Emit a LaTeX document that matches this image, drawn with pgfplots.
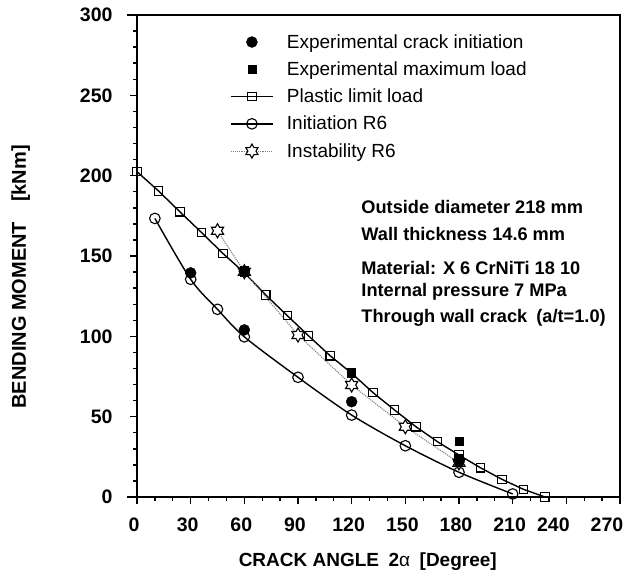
\documentclass[border=0pt]{standalone}
\usepackage{fontspec}
\setmainfont{Liberation Sans}
\usepackage{pgfplots}
\pgfplotsset{compat=1.18}

\pgfdeclareplotmark{sixstar}{%
  \pgfpathmoveto{\pgfpointpolar{90}{\pgfplotmarksize}}%
  \pgfpathlineto{\pgfpointpolar{120}{0.577\pgfplotmarksize}}%
  \pgfpathlineto{\pgfpointpolar{150}{\pgfplotmarksize}}%
  \pgfpathlineto{\pgfpointpolar{180}{0.577\pgfplotmarksize}}%
  \pgfpathlineto{\pgfpointpolar{210}{\pgfplotmarksize}}%
  \pgfpathlineto{\pgfpointpolar{240}{0.577\pgfplotmarksize}}%
  \pgfpathlineto{\pgfpointpolar{270}{\pgfplotmarksize}}%
  \pgfpathlineto{\pgfpointpolar{300}{0.577\pgfplotmarksize}}%
  \pgfpathlineto{\pgfpointpolar{330}{\pgfplotmarksize}}%
  \pgfpathlineto{\pgfpointpolar{0}{0.577\pgfplotmarksize}}%
  \pgfpathlineto{\pgfpointpolar{30}{\pgfplotmarksize}}%
  \pgfpathlineto{\pgfpointpolar{60}{0.577\pgfplotmarksize}}%
  \pgfpathclose
  \pgfusepathqfillstroke
}

\begin{document}
\begin{tikzpicture}
\useasboundingbox (-137pt,-76pt) rectangle (494pt,497pt);
\begin{axis}[
  at={(0,0)}, anchor=south west,
  scale only axis, width=483pt, height=482pt,
  xmin=0, xmax=270, ymin=0, ymax=300,
  axis line style={line width=1.6pt},
  xtick={0,30,...,210}, ytick={0,50,...,300},
  minor xtick={10,20,...,260}, minor y tick num=4,
  extra x ticks={240,270},
  extra x tick style={xticklabel style={xshift=-10pt}},
  xtick pos=bottom, ytick pos=left,
  tick align=outside,
  major tick length=7pt, minor tick length=4pt,
  tick style={line width=1.4pt, black},
  tick label style={font=\bfseries\fontsize{19.5}{19.5}\selectfont},
  yticklabel style={xshift=-14pt},
  xticklabel style={yshift=-10pt, xshift=-3pt},
  /pgf/number format/assume math mode=true,
  clip=false,
  legend style={draw=none, fill=none, at={(axis cs:52,289.3)}, anchor=north west,
    font=\fontsize{19}{19}\selectfont, row sep=8pt, inner sep=0pt},
  legend cell align=left,
  legend image code/.code={\path[draw=none, fill=none] (0pt,0pt) -- (54pt,0pt);\draw[mark repeat=2, mark phase=2] plot coordinates {(0pt,0pt) (21pt,0pt) (42pt,0pt)};},
]
% legend images
\addlegendimage{only marks, mark=*, mark size=5.5pt, black}
\addlegendentry{Experimental crack initiation}
\addlegendimage{only marks, mark=square*, mark size=4pt, black}
\addlegendentry{Experimental maximum load}
\addlegendimage{black, line width=1.4pt, mark=square, mark size=4.2pt, mark options={fill=white, line width=1.1pt}}
\addlegendentry{Plastic limit load}
\addlegendimage{black, line width=1.4pt, mark=o, mark size=5.3pt, mark options={fill=white, line width=1.1pt}}
\addlegendentry{Initiation R6}
\addlegendimage{gray, densely dotted, line width=1.1pt, mark=sixstar, mark size=7pt, mark options={solid, draw=black, fill=white, line width=1.1pt}}
\addlegendentry{Instability R6}

% Plastic limit load
\addplot[forget plot, black, line width=1.4pt, mark=square, mark size=4.2pt, mark options={fill=white, line width=1.1pt}] coordinates {
(0,202.5) (12,190.5) (24,177.5) (36,164.7) (48,151.6) (60,139.6) (72,125.7) (84,112.9) (96,100.2) (108,87.9)
(120,77) (132,64.9) (144,54.1) (156,43.7) (168,34.4) (180,26.1) (192,18.2) (204,11) (216,4.8) (228,0)};
% Initiation R6
\addplot[forget plot, black, line width=1.4pt, smooth, mark=o, mark size=5.3pt, mark options={fill=white, line width=1.1pt}] coordinates {
(10,173.4) (30,135.5) (45,116.8) (60,99.7) (90,74.5) (120,51) (150,31.9) (180,15.4) (210,1.9)};
% Instability R6
\addplot[forget plot, gray, densely dotted, line width=1.1pt, mark=sixstar, mark size=7pt, mark options={solid, draw=black, fill=white, line width=1.1pt}] coordinates {
(45,165.7) (60,140.2) (90,100.8) (120,69.7) (150,43.7) (180,21.3)};
% Experimental maximum load
\addplot[forget plot, only marks, mark=square*, mark size=4pt, black] coordinates {
(60,141) (120,77.5) (180,34.5) (180,24)};
% Experimental crack initiation
\addplot[forget plot, only marks, mark=*, mark size=5.5pt, black] coordinates {
(30,139.5) (60,104) (60,140.5) (120,59.3) (180,22)};

\draw[line width=1.6pt] (rel axis cs:0,1) -- ++(-10pt,0pt);
\draw[line width=1.6pt] (rel axis cs:0,0) -- ++(-10pt,0pt);

\begin{scope}[every node/.style={anchor=west, font=\bfseries\fontsize{18.2}{18.2}\selectfont}]
\node at (axis cs:123.5,180.5) {Outside diameter 218 mm};
\node at (axis cs:123.5,163.7) {Wall thickness 14.6 mm};
\node at (axis cs:123.5,142.5) {Material: X 6 CrNiTi 18 10};
\node at (axis cs:123.5,127.6) {Internal pressure 7 MPa};
\node at (axis cs:123.5,111.4) {Through wall crack\enspace (a/t=1.0)};
\end{scope}

\node[rotate=90, font=\bfseries\fontsize{20}{20}\selectfont] at (axis cs:-65,137) {BENDING MOMENT\quad [kNm]};
\node[font=\bfseries\fontsize{19}{19}\selectfont] at (axis cs:129,-40.5) {CRACK ANGLE\enspace 2\textmd{α}\enspace [Degree]};
\end{axis}
\end{tikzpicture}
\end{document}
